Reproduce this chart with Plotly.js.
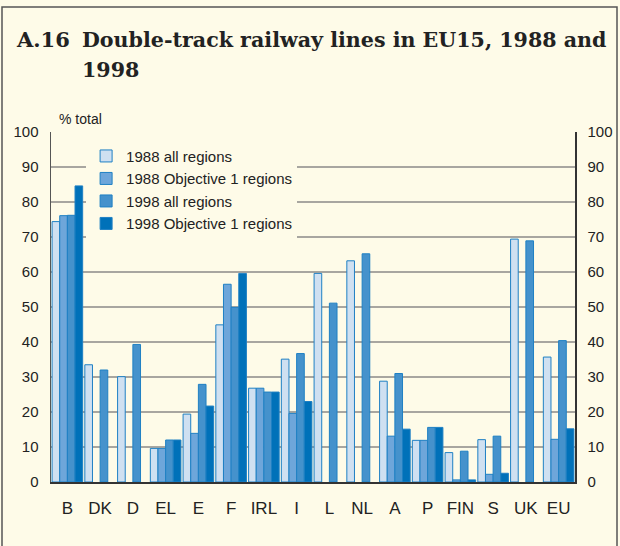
<!DOCTYPE html>
<html>
<head>
<meta charset="utf-8">
<script src="https://cdn.plot.ly/plotly-3.0.1.min.js"></script>
<style>
  body { margin: 0; background: #fefbe8; }
  #plot { width: 620px; height: 546px; }
</style>
</head>
<body>
<div id="plot"></div>
<script>
// Countries
var countries = ["B", "DK", "D", "EL", "E", "F", "IRL", "I", "L", "NL", "A", "P", "FIN", "S", "UK", "EU"];

// % of total lines that are double-track
var all1988  = [74.4, 33.5, 30.1,  9.6, 19.4, 44.9, 26.8, 35.1, 59.6, 63.2, 28.8, 11.9, 8.4, 12.1, 69.4, 35.7];
var obj1988  = [76.1, null, null,  9.6, 13.9, 56.5, 26.8, 19.6, null, null, 13.1, 11.9, 0.6,  2.2, null, 12.2];
var all1998  = [76.2, 32.0, 39.3, 12.0, 27.9, 49.9, 25.7, 36.7, 51.1, 65.2, 31.0, 15.6, 8.8, 13.1, 68.9, 40.4];
var obj1998  = [84.6, null, null, 12.0, 21.7, 59.6, 25.7, 23.0, null, null, 15.1, 15.6, 0.6,  2.5, null, 15.2];

var seriesNames = ["1988 all regions", "1988 Objective 1 regions", "1998 all regions", "1998 Objective 1 regions"];
var seriesColors = ["#cfe0f1", "#6ea6da", "#4592cc", "#0071b9"];
var seriesData = [all1988, obj1988, all1998, obj1998];

var data = seriesData.map(function (vals, i) {
  return {
    x: countries,
    y: vals,
    type: "bar",
    name: seriesNames[i],
    marker: {
      color: seriesColors[i],
      line: { color: "#1f80c4", width: 1 }
    },
    hoverinfo: "x+y+name"
  };
});

// invisible trace to get the mirrored scale on the right
data.push({
  x: countries, y: all1988, type: "scatter", mode: "markers",
  yaxis: "y2", showlegend: false, hoverinfo: "skip",
  marker: { opacity: 0 }
});

var cream = "#fefbe8";
var font = "Liberation Sans, Arial, sans-serif";
var serif = "DejaVu Serif, serif";

var layout = {
  width: 620,
  height: 546,
  margin: { l: 51, r: 45, t: 132, b: 64 },
  paper_bgcolor: cream,
  plot_bgcolor: cream,
  font: { family: font, size: 15, color: "#222" },
  barmode: "group",
  bargap: 0.066,
  bargroupgap: 0,
  showlegend: true,
  legend: {
    x: 0.067, y: 0.978, xanchor: "left", yanchor: "top",
    bgcolor: cream,
    font: { family: font, size: 15, color: "#222" },
    itemwidth: 30,
    tracegroupgap: 0
  },
  xaxis: {
    type: "category",
    range: [-0.5, 15.5],
    showgrid: false,
    ticks: "",
    showline: true, linecolor: "#333", linewidth: 1.5,
    tickfont: { size: 17, color: "#222" },
    ticklabelstandoff: 10,
    zeroline: false
  },
  yaxis: {
    range: [0, 100],
    dtick: 10,
    showgrid: true, gridcolor: "#a8a6a0", gridwidth: 1.5,
    showline: true, linecolor: "#555", linewidth: 1.5,
    ticks: "",
    ticklabelstandoff: 8,
    tickfont: { size: 15, color: "#222" },
    zeroline: false
  },
  yaxis2: {
    overlaying: "y",
    side: "right",
    range: [0, 100],
    dtick: 10,
    showgrid: false,
    showline: true, linecolor: "#333", linewidth: 1.5,
    ticks: "",
    ticklabelstandoff: 8,
    tickfont: { size: 15, color: "#222" },
    zeroline: false
  },
  annotations: [
    {
      text: "<b>A.16</b>",
      xref: "paper", yref: "paper",
      x: (14 - 51) / 524, y: (482 - 40) / 350,
      xanchor: "left", yanchor: "middle",
      showarrow: false,
      font: { family: serif, size: 21, color: "#222" }
    },
    {
      text: "<b>Double-track railway lines in EU15, 1988 and</b>",
      xref: "paper", yref: "paper",
      x: (80 - 51) / 524, y: (482 - 40) / 350,
      xanchor: "left", yanchor: "middle",
      showarrow: false,
      font: { family: serif, size: 20.6, color: "#222" }
    },
    {
      text: "<b>1998</b>",
      xref: "paper", yref: "paper",
      x: (80 - 51) / 524, y: (482 - 70) / 350,
      xanchor: "left", yanchor: "middle",
      showarrow: false,
      font: { family: serif, size: 20.6, color: "#222" }
    },
    {
      text: "% total",
      xref: "paper", yref: "paper",
      x: (57 - 51) / 524, y: (482 - 119) / 350,
      xanchor: "left", yanchor: "middle",
      showarrow: false,
      font: { family: font, size: 14, color: "#222" }
    }
  ],
  shapes: [
    {
      type: "rect", xref: "paper", yref: "paper",
      x0: (2 - 51) / 524, x1: (617 - 51) / 524,
      y0: (482 - 560) / 350, y1: (482 - 7) / 350,
      line: { color: "#555", width: 1.5 },
      fillcolor: "rgba(0,0,0,0)",
      layer: "below"
    }
  ]
};

Plotly.newPlot("plot", data, layout, { displayModeBar: false, staticPlot: true });
</script>
</body>
</html>
